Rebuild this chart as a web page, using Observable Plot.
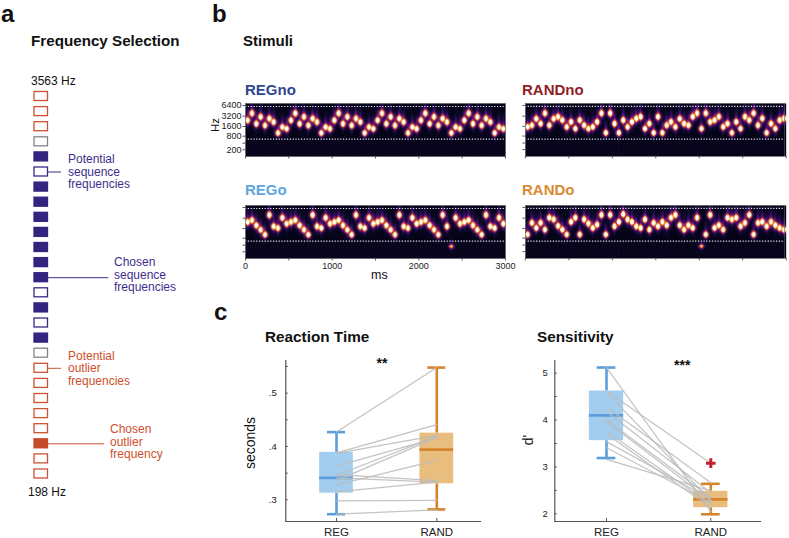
<!DOCTYPE html>
<html>
<head>
<meta charset="utf-8">
<script src="https://cdn.jsdelivr.net/npm/d3@7"></script>
<script src="https://cdn.jsdelivr.net/npm/@observablehq/plot@0.6"></script>
<style>
html,body{margin:0;padding:0;background:#fff;}
#page{position:relative;width:789px;height:538px;overflow:hidden;font-family:"Liberation Sans",Arial,sans-serif;color:#111;}
.holder{position:absolute;}
.lab{position:absolute;white-space:pre;line-height:1.2;transform:translateY(-50%);}
.rot{position:absolute;white-space:pre;line-height:1;transform:translate(-50%,-50%) rotate(-90deg);}
</style>
</head>
<body>
<div id="page"></div>
<script>
// ---------- data ----------
const ladderKinds = ["pot-out","pot-out","pot-out","gap","chosen-seq","pot-seq","chosen-seq","chosen-seq","chosen-seq","chosen-seq","chosen-seq","chosen-seq","chosen-seq","pot-seq","chosen-seq","pot-seq","chosen-seq","gap","pot-out","pot-out","pot-out","pot-out","pot-out","chosen-out","pot-out","pot-out"];
const ladderColors = {"pot-out":"#cc5233","gap":"#858585","pot-seq":"#3a2a88","chosen-seq":"#33247f","chosen-out":"#c64b2b"};

const hzTicks = [200,400,800,1600,3200,6400];
const bandLimits = [6000,594];

const regNoTones = [
2425,3850,1925,3055,1715,2722,2160,1008,1530,1360,
2425,3850,1925,3055,1715,2722,2160,1008,1530,1360,
2425,3850,1925,3055,1715,2722,2160,1008,1530,1360,
2425,3850,1925,3055,1715,2722,2160,1008,1530,1360,
2425,3850,1925,3055,1715,2722,2160,1008,1530,1360,
2425,3850,1925,3055,1715,2722,2160,1008,1530,1360];
const randNoTones = [
1530,1715,2660,1925,3850,1715,2660,3055,2425,1530,
2160,1360,2425,1715,1360,1530,2160,3850,1008,3850,
1925,1008,2425,1530,2160,2722,3055,1360,1925,1008,
3055,1008,1715,2160,1530,2660,1925,1715,3055,3850,
1360,3850,2160,2425,3055,1530,1925,1008,2160,1360,
3055,2425,3850,1715,2722,1008,1925,1360,2425,2722];
const regOTones = [
2482,2786,1970,1459,1032,3940,1838,1637,3275,2211,
2482,2786,1970,1459,1032,3940,1838,1637,3275,2211,
2482,2786,1970,1459,1032,3940,1838,1637,3275,2211,
2482,2786,1970,1459,1032,3940,1838,1637,3275,2211,
2482,2786,1970,1459,1032,3940,1838,353,3275,2211,
2482,2786,1970,1459,1032,3940,1838,1637,3275,2211];
const randOTones = [
1032,2316,1637,2316,1459,3275,2918,1881,1459,1032,
2482,3275,1032,2918,2211,1637,2063,3940,1032,3940,
1838,2482,4127,2918,2482,1838,1637,2918,1459,2316,
1838,2482,1970,3275,3940,1970,1459,1970,1637,3275,
353,1032,3940,1637,1970,1459,3275,2918,3275,1838,
2316,3940,1032,2316,2482,1838,2482,1970,1637,1459];

const conditions = ["REG","RAND"];
const rtBoxes = {
  REG:  {low:.273,q1:.3125,med:.341,q3:.389,high:.427},
  RAND: {low:.282,q1:.33,med:.394,q3:.425,high:.548}
};
const rtPairs = [[.427,.548],[.388,.441],[.387,.421],[.363,.416],[.346,.419],[.336,.417],[.328,.374],[.347,.336],[.341,.333],[.315,.333],[.298,.299],[.273,.281]];
const dBoxes = {
  REG:  {low:3.19,q1:3.56,med:4.1,q3:4.62,high:5.12},
  RAND: {low:1.99,q1:2.13,med:2.31,q3:2.48,high:2.64}
};
const dPairs = [[5.12,2.05],[4.62,3.08],[4.59,2.28],[4.28,2.66],[4.18,2.45],[4.0,2.35],[3.97,2.28],[3.76,2.2],[3.7,2.13],[3.54,2.31],[3.41,2.24],[3.16,2.49]];
const dOutliers = [3.08];

const boxFill = {REG:"#a2cdee",RAND:"#e8bd7e"};
const boxStroke = {REG:"#5b9edb",RAND:"#d5842b"};

// ---------- helpers ----------
const page = document.getElementById("page");
const font = '"Liberation Sans",Arial,sans-serif';
function place(svg,left,top){
  const d=document.createElement("div");d.className="holder";d.style.left=left+"px";d.style.top=top+"px";
  d.appendChild(svg);page.appendChild(d);
}
function label(text,x,y,size,opts={}){
  const d=document.createElement("div");d.className=opts.rot?"rot":"lab";d.textContent=text;
  d.style.left=x+"px";d.style.top=y+"px";d.style.fontSize=size+"px";
  if(opts.bold)d.style.fontWeight="bold";
  if(opts.color)d.style.color=opts.color;
  page.appendChild(d);
}

// ---------- a: frequency ladder ----------
const ladder = ladderKinds.map((kind,row)=>({row,kind,x1:0,x2:1}));
const leaders = [
  {row:5,x1:1,x2:2,c:ladderColors["pot-seq"]},
  {row:12,x1:1,x2:5.5,c:ladderColors["pot-seq"]},
  {row:18,x1:1,x2:2,c:ladderColors["pot-out"]},
  {row:23,x1:1,x2:5.2,c:ladderColors["pot-out"]}
];
place(Plot.plot({
  width:100,height:400,margin:0,
  style:{background:"transparent",overflow:"visible"},
  x:{domain:[0,6],range:[14,95],axis:null},
  y:{type:"band",domain:d3.range(26),range:[6.5,393],paddingInner:.404,paddingOuter:0,round:false,axis:null},
  marks:[
    Plot.ruleY(leaders,{y:"row",x1:"x1",x2:"x2",stroke:"c",strokeWidth:1}),
    Plot.barX(ladder,{y:"row",x1:"x1",x2:"x2",
      fill:d=>d.kind.startsWith("chosen")?ladderColors[d.kind]:"#fff",
      stroke:d=>ladderColors[d.kind],strokeWidth:1.3})
  ]
}),20,85);

// ---------- b: spectrograms ----------
const heatRamp = t => t<.92 ? d3.interpolateInferno(t/.92*.985) : d3.interpolateRgb("#fcfdae","#ffffff")((t-.92)/.08);
function spectrogram(tones,opts){
  const oct=tones.map(h=>Math.log2(h));
  const heat=(t,hz)=>{
    const o=Math.log2(hz);let peak=0,halo=.04;
    for(let i=0;i<tones.length;i++){
      const dt=t-(i*50+25);
      if(Math.abs(dt)>80)continue;
      const amp=tones[i]<600?.55:1;
      const dy=o-oct[i];
      const core=Math.exp(-dt*dt/(2*20*20));
      const narrow=Math.exp(-dt*dt/(2*12*12));
      const up=dy>0?.62:.4;
      peak=Math.max(peak,amp*1.35*core*Math.exp(-dy*dy/(2*.19*.19)));
      halo+=amp*.3*narrow*Math.exp(-dy*dy/(2*up*up));
      if(hz<594)halo+=.012*narrow;
    }
    return Math.min(peak+halo,1);
  };
  return Plot.plot({
    width:300,height:86,marginLeft:35,marginRight:5,marginTop:8,marginBottom:25,
    style:{background:"transparent",overflow:"visible",fontFamily:font,fontSize:"9px",color:"#222"},
    x:{domain:[0,3000],range:[35,35+opts.w]},
    y:{type:"log",base:2,domain:[105,200,400,800,1600,3200,6400,7290],range:[61,54.3,47.7,40.7,31,20.7,10,8]},
    color:{type:"linear",domain:[0,1],interpolate:heatRamp},
    marks:[
      Plot.raster({x1:0,x2:3000,y1:105,y2:7290,fill:heat,imageRendering:"auto"}),
      Plot.ruleY(bandLimits,{stroke:"#eeeaf6",strokeWidth:1.2,strokeDasharray:"1.2 1.6"}),
      Plot.frame({stroke:"#5a5a5a",strokeWidth:.6}),
      Plot.axisY(hzTicks,{anchor:"left",tickSize:2.5,tickPadding:1.5,label:null,
        tickFormat:opts.yLabels?(d=>d===400?"":String(d)):()=>"",stroke:"#555"}),
      Plot.axisX(d3.range(0,3001,500),{anchor:"bottom",tickSize:2.5,tickPadding:2,label:null,
        tickFormat:opts.xLabels?(d=>d%1000===0?String(d):""):()=>"",stroke:"#555"})
    ]
  });
}
place(spectrogram(regNoTones,{w:260,yLabels:true}),210,95);
place(spectrogram(randNoTones,{w:261.7}),490,95);
place(spectrogram(regOTones,{w:260,xLabels:true}),210,197);
place(spectrogram(randOTones,{w:261.7}),490,197);

// ---------- c: box plots ----------
function boxPanel(o){
  const rows=conditions.map(c=>({c,...o.boxes[c]}));
  const lines=o.pairs.flatMap((p,id)=>p.map((v,i)=>({id,c:conditions[i],v})));
  const capInset=(o.bw-o.cap)/2;
  return Plot.plot({
    width:o.width,height:195,marginLeft:o.left,marginRight:o.right,marginTop:10,marginBottom:24,
    style:{background:"transparent",overflow:"visible",fontFamily:font,fontSize:"9.5px",color:"#222"},
    x:{type:"band",domain:conditions,range:o.xRange,paddingInner:1-o.bw/o.step,paddingOuter:0,round:false,axis:null},
    y:{domain:o.domain,axis:null},
    marks:[
      Plot.ruleX(rows,{x:"c",y1:"low",y2:"q1",stroke:d=>boxStroke[d.c],strokeWidth:2.6}),
      Plot.ruleX(rows,{x:"c",y1:"q3",y2:"high",stroke:d=>boxStroke[d.c],strokeWidth:2.6}),
      Plot.barY(rows,{x:"c",y1:"q1",y2:"q3",fill:d=>boxFill[d.c]}),
      Plot.tickY(rows,{x:"c",y:"med",stroke:d=>boxStroke[d.c],strokeWidth:2.8}),
      Plot.tickY(rows,{x:"c",y:"low",stroke:d=>boxStroke[d.c],strokeWidth:2.6,insetLeft:capInset,insetRight:capInset}),
      Plot.tickY(rows,{x:"c",y:"high",stroke:d=>boxStroke[d.c],strokeWidth:2.6,insetLeft:capInset,insetRight:capInset}),
      Plot.line(lines,{x:"c",y:"v",z:"id",stroke:"#bdbdbd",strokeWidth:1.25,strokeOpacity:.9}),
      o.outliers?Plot.dot(o.outliers,{x:()=>"RAND",y:d=>d,symbol:"plus",r:3.2,stroke:"#c2202f",strokeWidth:3}):null,
      Plot.frame({anchor:"left",stroke:"#555",strokeWidth:1.2}),
      Plot.frame({anchor:"bottom",stroke:"#555",strokeWidth:1.2}),
      Plot.axisY(o.ticks,{anchor:"left",tickSize:-2.5,tickPadding:o.pad,label:null,tickFormat:o.fmt,stroke:"#555"}),
      Plot.axisY(o.minor,{anchor:"left",tickSize:-2.5,label:null,tickFormat:()=>"",stroke:"#555"}),
      Plot.axisX(conditions,{anchor:"bottom",tickSize:-3,tickPadding:9,label:null,stroke:"#555",fontSize:11.5})
    ]
  });
}
place(boxPanel({
  boxes:rtBoxes,pairs:rtPairs,width:245,left:45.3,right:5,
  domain:[.2593,.5613],ticks:[.3,.4,.5],minor:[.35,.45,.55],
  fmt:d=>d.toFixed(1).replace(/^0/,""),pad:11.5,
  bw:33.7,step:100.3,cap:18,xRange:[336-240-16.85,436.3-240+16.85]
}),240,350);
place(boxPanel({
  boxes:dBoxes,pairs:dPairs,outliers:dOutliers,width:250,left:44.3,right:0,
  domain:[1.836,5.27],ticks:[2,3,4,5],minor:[2.5,3.5,4.5],
  fmt:d=>String(d),pad:9.5,
  bw:34.3,step:104.3,cap:18.7,xRange:[606-510-17.15,710.3-510+17.15]
}),510,350);

// ---------- text ----------
label("a",1,14,24,{bold:true});
label("b",212,14,24,{bold:true});
label("c",214,312,24,{bold:true});
label("Frequency Selection",31,41,15.2,{bold:true});
label("Stimuli",243,41,15,{bold:true});
label("3563 Hz",31,80.5,12);
label("198 Hz",28,492,12);
const pur="#3d2f8c",red="#cf4f2c";
[["Potential",159],["sequence",171.5],["frequencies",184]].forEach(([t,y])=>label(t,68,y,12,{color:pur}));
[["Chosen",262],["sequence",274.5],["frequencies",287]].forEach(([t,y])=>label(t,114,y,12,{color:pur}));
[["Potential",355.5],["outlier",368],["frequencies",380.5]].forEach(([t,y])=>label(t,68,y,12,{color:red}));
[["Chosen",429],["outlier",441.5],["frequency",454]].forEach(([t,y])=>label(t,110,y,12,{color:red}));
label("REGno",245,90,15,{bold:true,color:"#2f4690"});
label("RANDno",522,90,15,{bold:true,color:"#8f1f26"});
label("REGo",245,190,15,{bold:true,color:"#5ea5e2"});
label("RANDo",522,190,15,{bold:true,color:"#da8a32"});
label("Hz",216,125,11.5,{rot:true});
label("ms",371,275,12.5);
label("Reaction Time",265,337,15.3,{bold:true});
label("Sensitivity",537,337,15.3,{bold:true});
label("**",376.5,363,14,{bold:true});
label("***",674,365,14,{bold:true});
label("seconds",250,443,14,{rot:true});
label("d'",528,440,14,{rot:true});
</script>
</body>
</html>
